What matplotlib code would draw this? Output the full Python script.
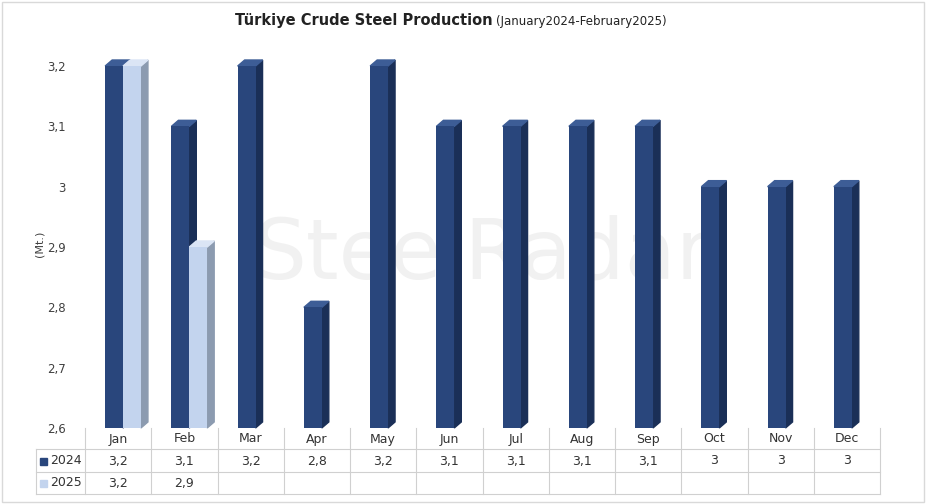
import matplotlib
matplotlib.use("Agg")
import matplotlib.pyplot as plt
from matplotlib.patches import Polygon, Rectangle
from matplotlib.lines import Line2D

months = ["Jan","Feb","Mar","Apr","May","Jun","Jul","Aug","Sep","Oct","Nov","Dec"]
s2024 = [3.2,3.1,3.2,2.8,3.2,3.1,3.1,3.1,3.1,3.0,3.0,3.0]
s2025 = [3.2,2.9]
lab2024 = ["3,2","3,1","3,2","2,8","3,2","3,1","3,1","3,1","3,1","3","3","3"]
lab2025 = ["3,2","2,9"]
yticks = [2.6,2.7,2.8,2.9,3.0,3.1,3.2]
ylabels = ["2,6","2,7","2,8","2,9","3","3,1","3,2"]

W, H = 926, 504
fig = plt.figure(figsize=(W/100, H/100), dpi=100)
fig.patches.append(Rectangle((2/W, 2/H), 1-4/W, 1-4/H, transform=fig.transFigure,
                             fill=False, ec="#d9d9d9", lw=1))
L, R, T, B = 85, 880, 60, 428
ax = fig.add_axes([L/W, 1-B/H, (R-L)/W, (B-T)/H])
ax.set_xlim(-0.5, 11.5)
ax.set_ylim(2.6, 3.21)
for s in ax.spines.values():
    s.set_visible(False)
ax.set_xticks([])
ax.set_yticks(yticks)
ax.set_yticklabels(ylabels, fontsize=8.5, color="#404040", fontfamily="DejaVu Sans")
ax.tick_params(axis="y", length=0, pad=14)
ax.set_ylabel("(Mt.)", fontsize=8, color="#404040", labelpad=2)

ax.text(0.5, 0.47, "SteelRadar", transform=ax.transAxes, ha="center", va="center",
        fontsize=60, color="#f1f1f1", zorder=0)

dx, dy = 0.106, 0.01
def bar3d(x0, w, v, cf, cs, ct):
    ax.bar(x0, v - 2.6, width=w, bottom=2.6, align="edge", color=cf, zorder=3)
    ax.add_patch(Polygon([(x0+w, 2.6), (x0+w+dx, 2.6+dy), (x0+w+dx, v+dy), (x0+w, v)],
                         closed=True, color=cs, zorder=2, clip_on=False))
    ax.add_patch(Polygon([(x0, v), (x0+dx, v+dy), (x0+w+dx, v+dy), (x0+w, v)],
                         closed=True, color=ct, zorder=2, clip_on=False))

bw = 0.27
for i, v in enumerate(s2024):
    bar3d(i - 0.196, bw, v, "#29467c", "#1a2f57", "#3d5d96")
for i, v in enumerate(s2025):
    bar3d(i - 0.196 + bw, bw, v, "#c3d4ee", "#8c9bb0", "#dbe5f5")

# table
tr = fig.transFigure
def fx(px): return px / W
def fy(py): return 1 - py / H
cw = (R - L) / 12
lc = "#d0d0d0"
rows_y = [428, 449, 472, 494]
for y in rows_y[1:]:
    fig.add_artist(Line2D([fx(36), fx(R)], [fy(y), fy(y)], transform=tr, color=lc, lw=0.8))
fig.add_artist(Line2D([fx(36), fx(36)], [fy(449), fy(494)], transform=tr, color=lc, lw=0.8))
for k in range(13):
    x = L + k * cw
    fig.add_artist(Line2D([fx(x), fx(x)], [fy(428), fy(494)], transform=tr, color=lc, lw=0.8))
for i, m in enumerate(months):
    cx = fx(L + (i + 0.5) * cw)
    fig.text(cx, fy(439), m, ha="center", va="center", fontsize=9, color="#333333")
    fig.text(cx, fy(461), lab2024[i], ha="center", va="center", fontsize=9, color="#333333")
for i, t in enumerate(lab2025):
    fig.text(fx(L + (i + 0.5) * cw), fy(483), t, ha="center", va="center", fontsize=9, color="#333333")
for yy, c, t in [(461, "#29467c", "2024"), (483, "#c3d4ee", "2025")]:
    fig.patches.append(Rectangle((fx(40), fy(yy + 3.5)), 7/W, 7/H, transform=tr, color=c))
    fig.text(fx(50), fy(yy), t, ha="left", va="center", fontsize=9, color="#333333")

fig.text(fx(493), fy(21), "Türkiye Crude Steel Production", ha="right", va="center",
         fontsize=10.5, fontweight="bold", color="#222222")
fig.text(fx(496), fy(21), "(January2024-February2025)", ha="left", va="center",
         fontsize=8.5, color="#222222")

fig.savefig("out.png", dpi=100)
